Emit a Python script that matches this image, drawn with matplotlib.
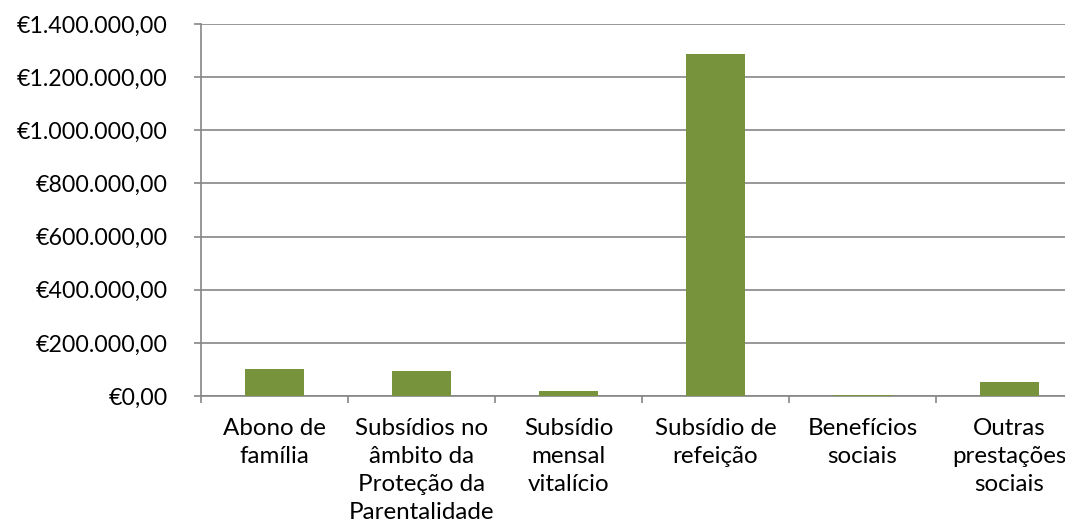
import matplotlib
matplotlib.use("Agg")
import matplotlib.pyplot as plt
from matplotlib.ticker import FuncFormatter, MultipleLocator, FixedLocator

categories = ["Abono de\nfamília",
              "Subsídios no\nâmbito da\nProteção da\nParentalidade",
              "Subsídio\nmensal\nvitalício",
              "Subsídio de\nrefeição",
              "Benefícios\nsociais",
              "Outras\nprestações\nsociais"]
values = [101000, 95000, 19000, 1288000, 3000, 54000]

BAR_COLOR = "#77933C"
GRID_COLOR = "#868686"

plt.rcParams["font.family"] = ["Lato", "DejaVu Sans"]


def euro(v, pos):
    s = f"{v:,.2f}"
    s = s.replace(",", "X").replace(".", ",").replace("X", ".")
    return "€" + s


fig = plt.figure(figsize=(10.65, 5.24), dpi=100)
# the plot area runs past the right edge of the picture, like the original crop
ax = fig.add_axes([201 / 1065, 128 / 524, 882 / 1065, 372 / 524])

x = list(range(len(categories)))
ax.bar(x, values, width=0.4, color=BAR_COLOR, zorder=3)

ax.set_xlim(-0.5, len(categories) - 0.5)
ax.set_ylim(0, 1400000)
ax.yaxis.set_major_locator(MultipleLocator(200000))
ax.yaxis.set_major_formatter(FuncFormatter(euro))
ax.grid(axis="y", color=GRID_COLOR, linewidth=1.2, zorder=0)

ax.set_xticks(x)
ax.set_xticklabels(categories, multialignment="center", linespacing=1.4)
ax.xaxis.set_minor_locator(FixedLocator([i - 0.5 for i in range(len(categories) + 1)]))
ax.tick_params(axis="x", which="major", length=0, pad=16, labelsize=17.4)
ax.tick_params(axis="x", which="minor", length=5, width=1.2, color=GRID_COLOR)
ax.tick_params(axis="y", length=5, width=1.2, color=GRID_COLOR, pad=19, labelsize=16.7)

for s in ["top", "right"]:
    ax.spines[s].set_visible(False)
for s in ["left", "bottom"]:
    ax.spines[s].set_color(GRID_COLOR)
    ax.spines[s].set_linewidth(1.2)

fig.savefig("out.png", dpi=100)
